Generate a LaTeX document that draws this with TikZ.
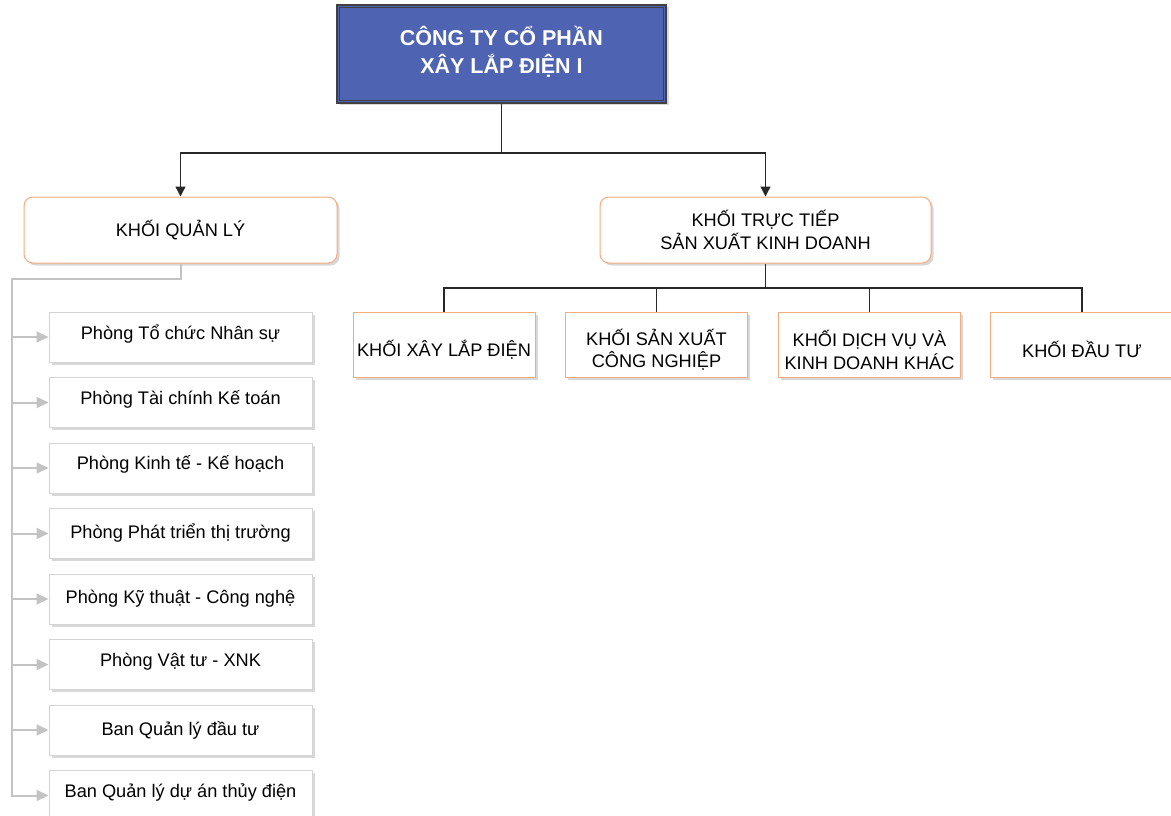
\documentclass[tikz,border=0pt]{standalone}
\usepackage{fontspec}
\setmainfont{Liberation Sans}
\usetikzlibrary{arrows.meta,shadows}
\definecolor{topfill}{RGB}{78,99,178}
\definecolor{orangeb}{RGB}{242,172,125}
\definecolor{grayline}{RGB}{195,195,195}
\definecolor{boxgray}{RGB}{212,212,212}
\definecolor{darkline}{RGB}{40,40,40}
\definecolor{shadowc}{RGB}{200,200,200}
\newcommand\txtdown{\rule{0pt}{27pt}}
\newcommand\txtup{\rule[-10pt]{0pt}{1pt}}
\newcommand\topup{\rule[-10pt]{0pt}{1pt}}
\begin{document}
\begin{tikzpicture}[x=1pt,y=-1pt,
  every node/.style={font=\fontsize{18.2}{22.5}\selectfont, inner sep=0pt, align=center},
  shad/.style={drop shadow={shadow xshift=2.5pt, shadow yshift=-2.5pt, fill=shadowc, opacity=0.7}},
  topbox/.style={draw=darkgray, line width=1.2pt, fill=topfill, text=white,
    font=\bfseries\fontsize{21.5}{28}\selectfont, minimum width=329pt, minimum height=98pt, shad},
  lvlbox/.style={draw=orangeb, line width=1pt, fill=white, rounded corners=9pt, minimum height=66pt, shad},
  unitbox/.style={draw=orangeb, line width=1pt, fill=white, minimum width=182pt, minimum height=65pt, shad},
  deptbox/.style={draw=boxgray, line width=1pt, fill=white, minimum width=263pt, minimum height=50pt, shad},
  darkconn/.style={draw=darkline, line width=1.4pt},
  darkarrow/.style={darkconn, -{Triangle[length=10pt,width=10pt]}},
  grayconn/.style={draw=grayline, line width=2pt},
  grayarrow/.style={grayconn, -{Triangle[length=12pt,width=11pt]}}
]
\useasboundingbox (0,0) rectangle (1171,816);

% top
\node[topbox] (top) at (501.5,54) {CÔNG TY CỔ PHẦN\\XÂY LẮP ĐIỆN I\rule[-8pt]{0pt}{1pt}};
\draw[darkgray, line width=1pt] ([shift={(3.5,3.5)}]top.north west) rectangle ([shift={(-3.5,-3.5)}]top.south east);

% level 2
\node[lvlbox, minimum width=313pt] (kql) at (180.5,230) {KHỐI QUẢN LÝ};
\node[lvlbox, minimum width=331pt] (kt) at (765.5,230) {KHỐI TRỰC TIẾP\\SẢN XUẤT KINH DOANH};

\coordinate (j1) at (501.5,153);
\draw[darkconn] (top.south) -- (j1);
\draw[darkarrow] (j1) -| (kql.north);
\draw[darkarrow] (j1) -| (kt.north);

% units
\node[unitbox] (u1) at (444,344.5) {\txtdown KHỐI XÂY LẮP ĐIỆN};
\node[unitbox] (u2) at (656.5,344.5) {\txtdown KHỐI SẢN XUẤT\\CÔNG NGHIỆP};
\node[unitbox] (u3) at (869.5,344.5) {\txtdown KHỐI DỊCH VỤ VÀ\\KINH DOANH KHÁC};
\node[unitbox, minimum width=184pt] (u4) at (1082,344.5) {\txtdown KHỐI ĐẦU TƯ};

\coordinate (j2) at (765.5,288);
\draw[darkconn] (kt.south) -- (j2);
\foreach \u in {u1,u2,u3,u4} \draw[darkconn] (j2) -| (\u.north);

% departments
\node[deptbox] (d1) at (180.5,337) {Phòng Tổ chức Nhân sự\txtup};
\node[deptbox] (d2) at (180.5,402.5) {Phòng Tài chính Kế toán\txtup};
\node[deptbox] (d3) at (180.5,468) {Phòng Kinh tế - Kế hoạch\txtup};
\node[deptbox] (d4) at (180.5,533.5) {Phòng Phát triển thị trường};
\node[deptbox] (d5) at (180.5,599) {Phòng Kỹ thuật - Công nghệ};
\node[deptbox] (d6) at (180.5,664.5) {Phòng Vật tư - XNK\txtup};
\node[deptbox] (d7) at (180.5,730) {Ban Quản lý đầu tư};
\node[deptbox] (d8) at (180.5,795.5) {Ban Quản lý dự án thủy điện\txtup};

\coordinate (g0) at (12,279);
\draw[grayarrow] (kql.south) |- (g0) |- (d8.west);
\foreach \d in {d1,d2,d3,d4,d5,d6,d7} \draw[grayarrow] (g0 |- \d.west) -- (\d.west);
\end{tikzpicture}
\end{document}
